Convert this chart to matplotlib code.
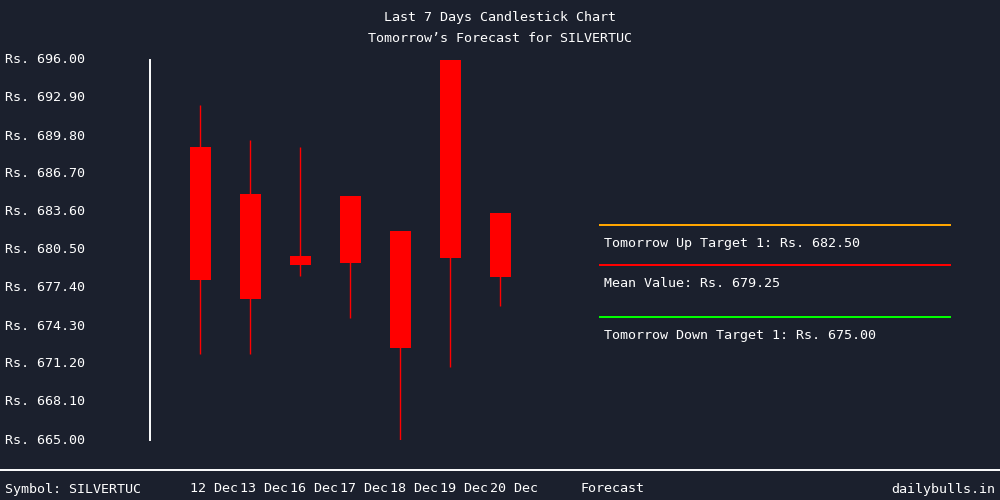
import matplotlib.pyplot as plt
import matplotlib.transforms as mtransforms

# candle data
dates = ["12 Dec", "13 Dec", "16 Dec", "17 Dec", "18 Dec", "19 Dec", "20 Dec"]
opens = [688.90, 685.07, 680.01, 684.91, 682.05, 696.00, 683.52]
closes = [678.08, 676.53, 679.28, 679.47, 672.53, 679.87, 678.30]
highs = [692.33, 689.47, 688.90, 684.91, 682.05, 696.00, 683.52]
lows = [672.04, 672.04, 678.41, 674.98, 665.00, 670.98, 675.96]

y_ticks = [696.00, 692.90, 689.80, 686.70, 683.60, 680.50, 677.40, 674.30, 671.20, 668.10, 665.00]

target_labels = ["Tomorrow Up Target 1: Rs. 682.50", "Mean Value: Rs. 679.25", "Tomorrow Down Target 1: Rs. 675.00"]
target_values = [682.50, 679.25, 675.00]
target_colors = ["#ffa500", "#ff0000", "#00ff00"]

symbol = "SILVERTUC"

bg = "#1b202d"
plt.rcParams["font.family"] = ["DejaVu Sans Mono"]
plt.rcParams["font.size"] = 9.6

fig = plt.figure(figsize=(10, 5), dpi=100, facecolor=bg)
ax = fig.add_axes([0.15, 0.12, 0.45, 0.76])
ax.set_facecolor(bg)
ax.patch.set_alpha(0)
ax.set_xlim(-1, 8)
ax.set_ylim(min(y_ticks), max(y_ticks))
for s in ["top", "right", "bottom"]:
    ax.spines[s].set_visible(False)
ax.spines["left"].set_color("white")
ax.spines["left"].set_linewidth(1.4)
ax.set_xticks([])
ax.set_yticks([])

# candles
for i in range(len(dates)):
    ax.vlines(i, lows[i], highs[i], color="red", linewidth=1.0, zorder=2)
    top = max(opens[i], closes[i])
    bot = min(opens[i], closes[i])
    ax.bar(i, top - bot, bottom=bot, width=0.42, color="red", zorder=3)

# y labels on the left edge
ytrans = mtransforms.blended_transform_factory(fig.transFigure, ax.transData)
for v in y_ticks:
    fig.text(0.005, v, f"Rs. {v:.2f}", transform=ytrans, ha="left", va="center",
             color="white")

# forecast target lines
for lab, v, c in zip(target_labels, target_values, target_colors):
    fig.add_artist(plt.Line2D([0.6, 0.95], [v, v], transform=ytrans, color=c,
                              linewidth=1.4, antialiased=False))
    ax.annotate(lab, xy=(0.604, v), xycoords=ytrans, xytext=(0, -18),
                textcoords="offset pixels", ha="left", va="center", color="white")

# titles
fig.text(0.5, 1 - 18 / 500, "Last 7 Days Candlestick Chart", ha="center", va="center", color="white")
fig.text(0.5, 1 - 38 / 500, f"Tomorrow\u2019s Forecast for {symbol}", ha="center", va="center", color="white")

# footer
fig.add_artist(plt.Line2D([0, 1], [1 - 470 / 500, 1 - 470 / 500], transform=fig.transFigure,
                          color="white", linewidth=1.4))
foot_y = 1 - 489 / 500
fig.text(0.005, foot_y, f"Symbol: {symbol}", ha="left", va="center", color="white")
xtrans = mtransforms.blended_transform_factory(ax.transData, fig.transFigure)
for i, d in enumerate(dates):
    fig.text(i - 0.21, foot_y, d, transform=xtrans, ha="left", va="center", color="white")
fig.text(0.58, foot_y, "Forecast", ha="left", va="center", color="white")
fig.text(0.995, foot_y, "dailybulls.in", ha="right", va="center", color="white")

fig.savefig("out.png", facecolor=bg)
